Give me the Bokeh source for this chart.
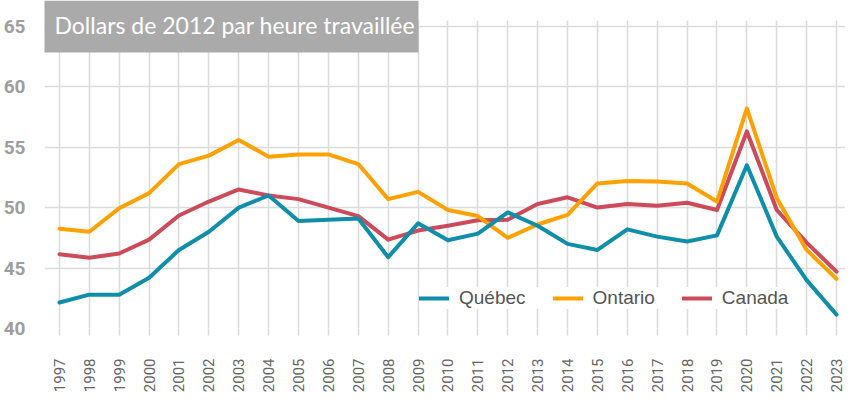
import math
from bokeh.plotting import figure
from bokeh.models import (FixedTicker, Legend, LegendItem, Label, Range1d, BoxAnnotation)
from bokeh.embed import file_html
from bokeh.resources import INLINE

years = list(range(1997, 2024))
year_labels = [str(y) for y in years]
y_ticks = [40, 45, 50, 55, 60, 65]

quebec = [42.15, 42.8, 42.8, 44.2, 46.5, 48.0, 50.0, 51.0, 48.9, 49.0, 49.1, 45.9, 48.7,
          47.3, 47.85, 49.6, 48.5, 47.0, 46.5, 48.2, 47.6, 47.2, 47.7, 53.5, 47.6, 44.0, 41.15]
ontario = [48.26, 48.0, 49.95, 51.2, 53.6, 54.3, 55.6, 54.2, 54.4, 54.4, 53.6, 50.7, 51.3,
           49.8, 49.3, 47.5, 48.6, 49.4, 52.0, 52.2, 52.15, 52.0, 50.5, 58.2, 50.8, 46.5, 44.1]
canada = [46.15, 45.85, 46.2, 47.35, 49.35, 50.5, 51.5, 51.0, 50.7, 50.0, 49.3, 47.35, 48.1,
          48.5, 48.95, 49.0, 50.3, 50.85, 50.0, 50.3, 50.15, 50.4, 49.8, 56.3, 49.8, 47.1, 44.7]

series_names = ["Québec", "Ontario", "Canada"]
title_text = "Dollars de 2012 par heure travaillée"

W, H = 845, 395
p = figure(width=W, height=H, output_backend="svg", toolbar_location=None,
           x_range=Range1d(1996.5, 2023.3), y_range=Range1d(40, 67.13),
           min_border_left=35, min_border_right=0, min_border_top=0,
           min_border_bottom=67)
p.outline_line_color = None
p.background_fill_color = "white"

# grids
p.xgrid.ticker = FixedTicker(ticks=years)
p.ygrid.ticker = FixedTicker(ticks=y_ticks)
for g in (p.xgrid, p.ygrid):
    g.grid_line_color = "#dcdcdc"
    g.grid_line_width = 1.6

# blank strip above the plotting area
p.add_layout(BoxAnnotation(bottom=65.48, fill_color="white", fill_alpha=1.0,
                           line_color=None, level="underlay"))

# x axis
p.xaxis.ticker = FixedTicker(ticks=years)
p.xaxis.major_label_overrides = {y: l for y, l in zip(years, year_labels)}
p.xaxis.major_label_orientation = math.pi / 2
p.xaxis.axis_line_color = None
p.xaxis.major_tick_line_color = "#dcdcdc"
p.xaxis.major_tick_line_width = 1.6
p.xaxis.major_tick_out = 7
p.xaxis.major_tick_in = 0
p.xaxis.minor_tick_line_color = None
p.xaxis.major_label_standoff = 23
p.xaxis.major_label_text_font = "Roboto"
p.xaxis.major_label_text_font_size = "15px"
p.xaxis.major_label_text_color = "#666666"

# y axis
p.yaxis.ticker = FixedTicker(ticks=y_ticks)
p.yaxis.axis_line_color = None
p.yaxis.major_tick_line_color = None
p.yaxis.minor_tick_line_color = None
p.yaxis.major_label_standoff = 13
p.yaxis.major_label_text_font = "Roboto"
p.yaxis.major_label_text_font_style = "bold"
p.yaxis.major_label_text_font_size = "19px"
p.yaxis.major_label_text_color = "#9e9e9e"

colors = ["#0e8ea9", "#ffa200", "#cd4a5a"]
data = [quebec, ontario, canada]
renderers = {}
for idx in [2, 1, 0]:
    r = p.line(years, data[idx], line_color=colors[idx], line_width=4,
               line_join="round", line_cap="round")
    renderers[idx] = r

legend = Legend(items=[LegendItem(label=series_names[i], renderers=[renderers[i]]) for i in range(3)],
                orientation="horizontal", location=(375, 19),
                glyph_width=30, glyph_height=20, label_standoff=10, spacing=27,
                padding=8, margin=0, border_line_color=None,
                background_fill_color="white", background_fill_alpha=1.0,
                label_text_font="Liberation Sans", label_text_font_size="19px",
                label_text_color="#555555")
p.add_layout(legend, "center")

# title banner
p.add_layout(BoxAnnotation(left=35, right=418, top=0, bottom=52,
                           left_units="canvas", right_units="canvas",
                           top_units="canvas", bottom_units="canvas",
                           fill_color="#aaaaaa", fill_alpha=1.0, line_color=None))
p.add_layout(Label(x=54, y=24, x_units="canvas", y_units="canvas", text=title_text,
                   text_font="Lato", text_font_size="23px", text_color="white",
                   text_align="left", text_baseline="alphabetic"))

open("out.html", "w").write(file_html(p, INLINE))
